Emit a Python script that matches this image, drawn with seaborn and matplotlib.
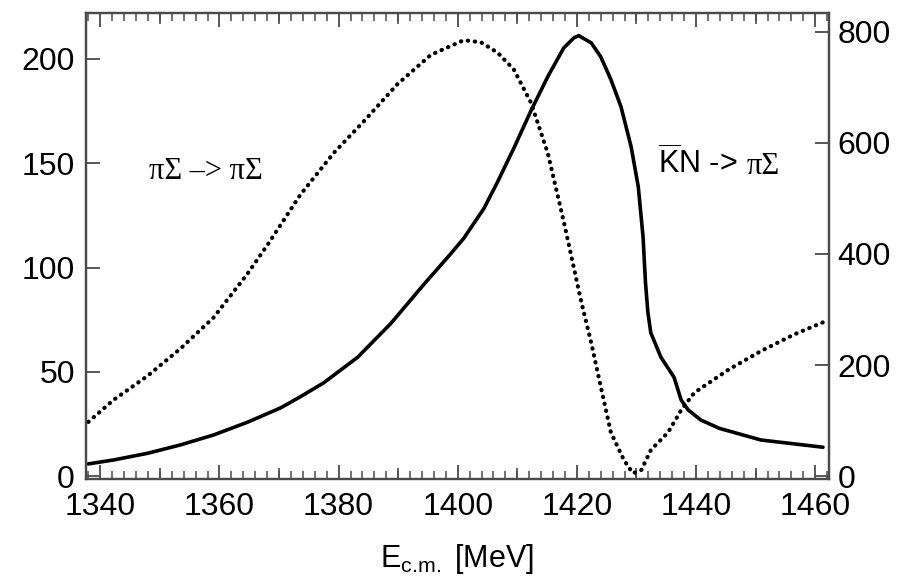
import numpy as np
import pandas as pd
import matplotlib
matplotlib.use('Agg')
import matplotlib.pyplot as plt
from matplotlib.ticker import MultipleLocator, FixedLocator, NullFormatter
import seaborn as sns

# |T|^2 for K-bar N -> pi Sigma (right axis)
kn_energy = [1338.0, 1342.2, 1347.9, 1353.4, 1359.0, 1364.7, 1370.3, 1373.6, 1377.5,
             1383.2, 1388.7, 1394.3, 1398.8, 1401.0, 1404.4, 1406.7, 1409.4, 1412.3,
             1415.1, 1417.8, 1419.5, 1420.3, 1422.4, 1424.0, 1425.7, 1427.4, 1429.1,
             1430.3, 1431.1, 1431.5, 1431.9, 1432.4, 1434.1, 1436.3, 1437.5, 1438.7,
             1440.8, 1443.9, 1450.9, 1461.3]
kn_value = [22, 29, 41, 56, 74, 97, 123, 143, 168,
            214, 274, 345, 400, 428, 482, 530, 590, 658,
            719, 771, 789, 793, 780, 755, 714, 665, 593,
            521, 431, 350, 296, 258, 214, 178, 137, 119,
            101, 86, 65, 52]

# |T|^2 for pi Sigma -> pi Sigma (left axis)
ps_energy = [1338.0, 1342.2, 1347.9, 1353.4, 1359.0, 1364.7, 1368.1, 1373.6, 1379.2,
             1384.2, 1389.9, 1395.5, 1401.0, 1403.9, 1406.7, 1409.4, 1412.3, 1415.1,
             1417.8, 1420.7, 1422.4, 1424.0, 1425.7, 1427.9, 1429.4, 1430.8, 1432.4,
             1435.3, 1437.5, 1439.7, 1445.4, 1450.9, 1456.5, 1461.5]
ps_value = [26, 36.5, 48, 61, 76, 97, 111, 135, 155,
            170, 188, 202, 209, 208, 203, 195, 179, 155,
            122, 84, 64, 43, 21, 7.7, 1.4, 2.9, 12.5,
            21, 31.7, 40, 51, 60, 68, 74]

left_ticks = [0, 50, 100, 150, 200]
right_ticks = [0, 200, 400, 600, 800]

kn = pd.DataFrame({'E': kn_energy, 'T2': kn_value})
ps = pd.DataFrame({'E': ps_energy, 'T2': ps_value})

sns.set_style('ticks')
plt.rcParams['font.family'] = ['Liberation Sans', 'DejaVu Sans']
plt.rcParams['mathtext.fontset'] = 'custom'
plt.rcParams['mathtext.rm'] = 'Liberation Sans'
plt.rcParams['mathtext.it'] = 'Liberation Sans:italic'
for key in ['text.color', 'axes.labelcolor', 'xtick.labelcolor', 'ytick.labelcolor']:
    plt.rcParams[key] = 'black'

frame = '#4a4a4a'
fig = plt.figure(figsize=(9.02, 5.85), dpi=100)
ax = fig.add_axes([0.0953, 0.181, 0.8237, 0.797])
ax2 = ax.twinx()

sns.lineplot(data=ps, x='E', y='T2', ax=ax, color='black', linewidth=3.0,
             linestyle=(0, (0.1, 1.6)), dash_capstyle='round', sort=False)
sns.lineplot(data=kn, x='E', y='T2', ax=ax2, color='black', linewidth=2.6,
             sort=False, solid_joinstyle='round')

ax.set_xlim(1337.6, 1462.3)
ax.set_ylim(-1.4, 222.1)
ax2.set_ylim(-5.4, 834)

ax.xaxis.set_major_locator(MultipleLocator(20))
ax.xaxis.set_minor_locator(MultipleLocator(2))
ax.set_yticks(left_ticks)
ax2.set_yticks(right_ticks)
ax.yaxis.set_minor_locator(FixedLocator([]))
ax2.yaxis.set_minor_locator(FixedLocator([]))

ax.tick_params(axis='x', which='major', direction='in', length=10, width=1.3,
               top=True, bottom=True, color=frame, labelsize=23, pad=9)
ax.tick_params(axis='x', which='minor', direction='in', length=5.5, width=1.1,
               top=True, bottom=True, color=frame)
ax.tick_params(axis='y', direction='in', length=10, width=1.3, color=frame,
               labelsize=23, pad=8, right=False)
ax2.tick_params(axis='y', direction='in', length=10, width=1.3, color=frame,
                labelsize=23, pad=6)

# medium ticks every 10 MeV
for side in ['bottom', 'top']:
    sec = ax.secondary_xaxis(side)
    sec.set_xticks(np.arange(1350, 1461, 20))
    sec.xaxis.set_major_formatter(NullFormatter())
    sec.tick_params(direction='in', length=8, width=1.2, color=frame)
    sec.spines[side].set_visible(False)

for a in (ax, ax2):
    for s in a.spines.values():
        s.set_color(frame)
        s.set_linewidth(1.6)

ax.set_ylabel('')
ax2.set_ylabel('')
ax.set_xlabel(r'E$_{\mathrm{c.\!m.}}$ [MeV]', fontsize=22, labelpad=15)

ax.text(1348.1, 146, 'πΣ –> πΣ', fontsize=22, family='Liberation Serif',
        va='center', ha='left')
t1 = ax.text(1433.6, 145, r'$\overline{\mathrm{K}}$N ->', fontsize=22,
             va='baseline', ha='left')
ax.annotate('πΣ', xy=(1, 0), xycoords=t1, xytext=(7, 0), textcoords='offset points',
            fontsize=22, family='Liberation Serif', va='bottom', ha='left')

fig.savefig('out.png', dpi=100)
